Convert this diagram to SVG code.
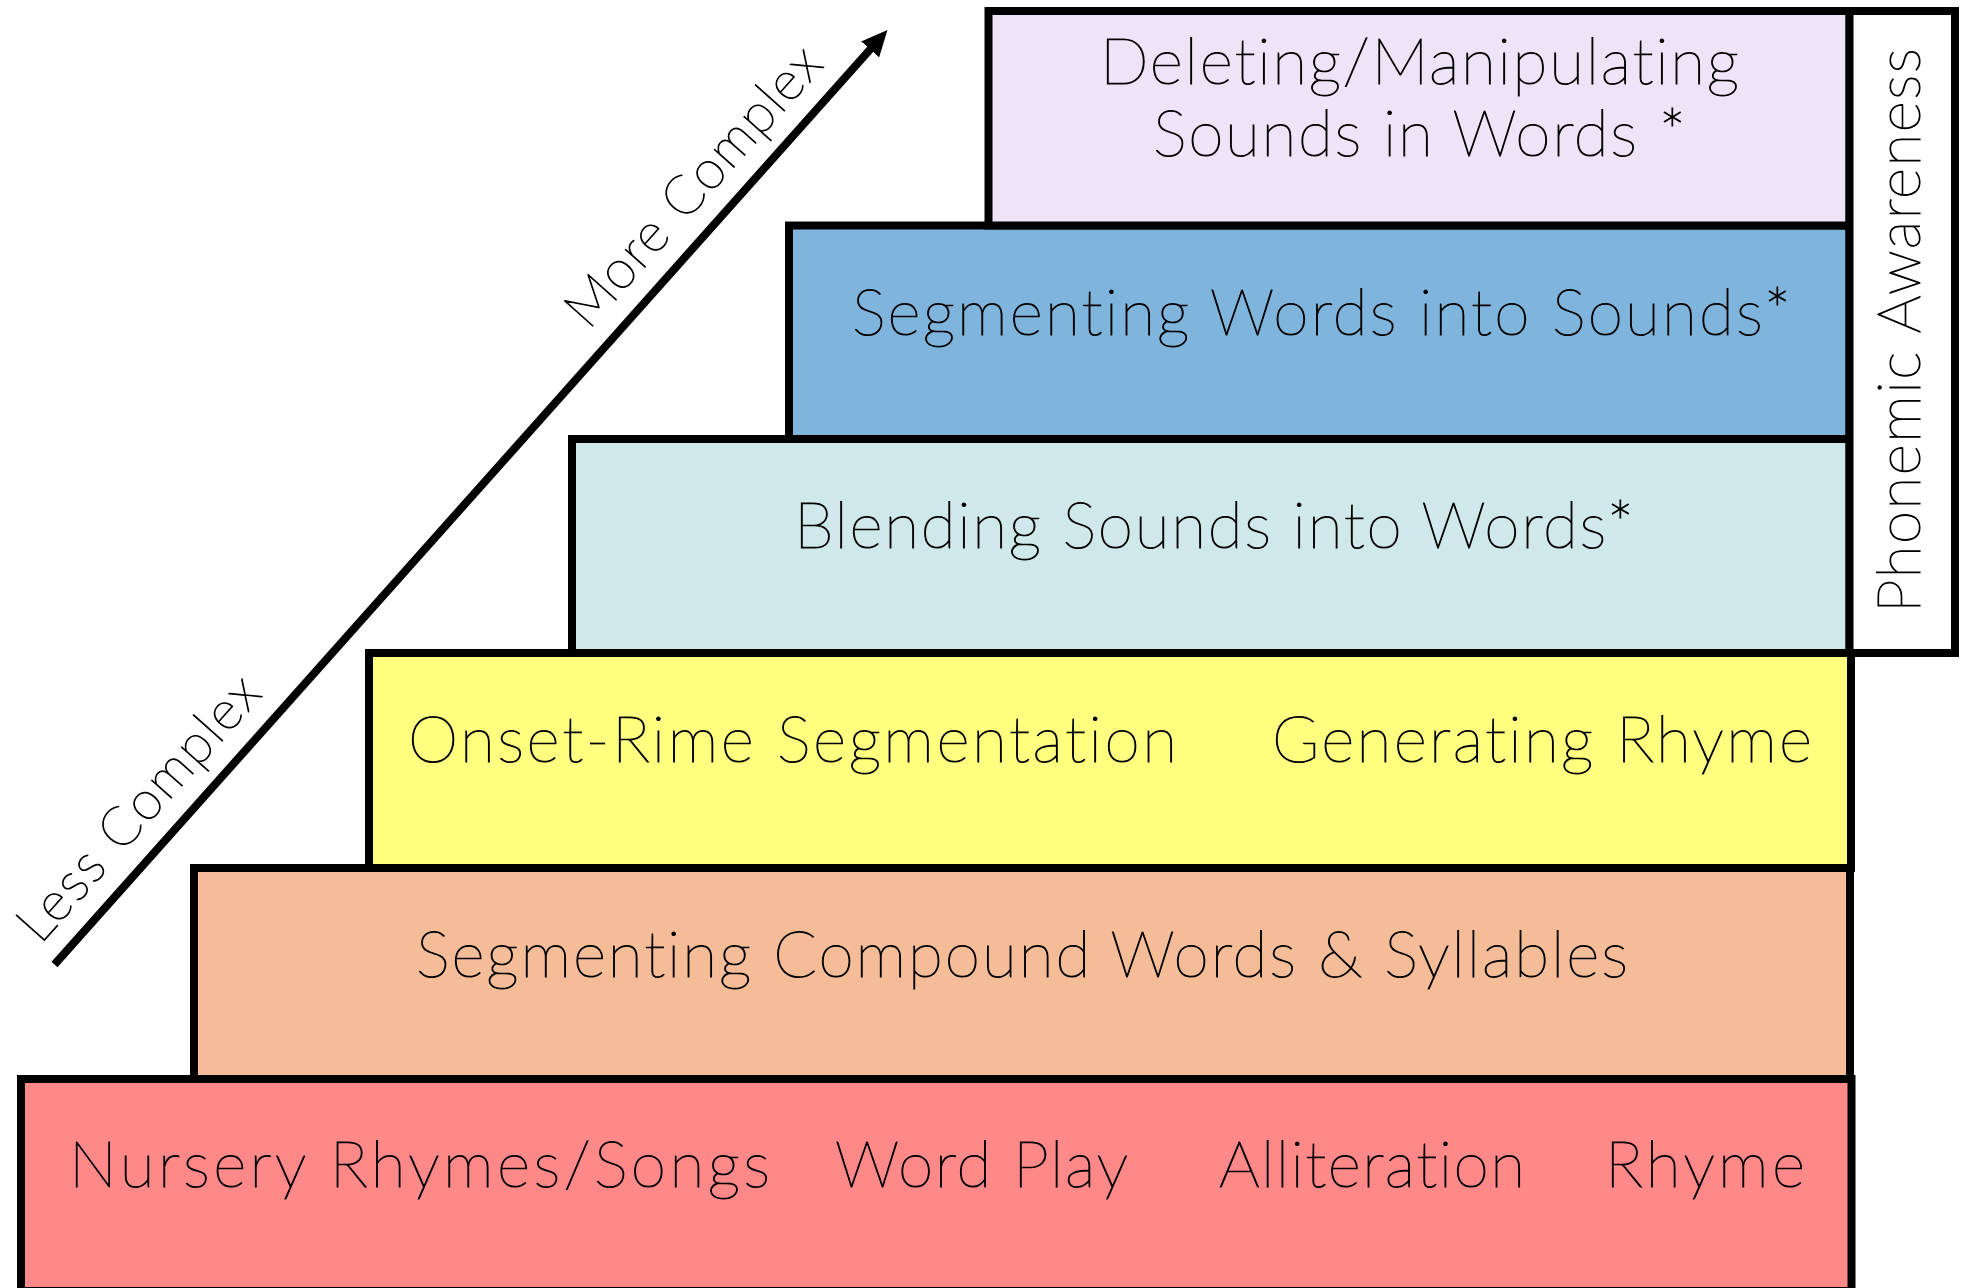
<svg xmlns="http://www.w3.org/2000/svg" width="1971" height="1288" viewBox="0 0 1971 1288">
  <style>
    .box { stroke: #000; stroke-width: 8; }
    .lbl, .axis { font-family: Lato, "Open Sans", "DejaVu Sans", sans-serif; font-weight: 100; fill: #000; stroke: #000; stroke-width: 1.1; font-variant-ligatures: none; }
    .lbl { font-size: 64px; }
    .axis { font-size: 54px; }
  </style>
  <defs>
    <marker id="arrowhead" viewBox="0 -12 26 24" markerWidth="26" markerHeight="24" refX="2" refY="0" orient="auto" markerUnits="userSpaceOnUse">
      <path d="M0,-12 L26,0 L0,12 z" fill="#000"/>
    </marker>
  </defs>
  <rect width="1971" height="1288" fill="#fff"/>

  <!-- complexity axis -->
  <g id="connectors">
    <line x1="54.5" y1="964.5" x2="871.5" y2="47.9" stroke="#000" stroke-width="8" marker-end="url(#arrowhead)"/>
  </g>
  <g id="axis-labels">
    <text class="axis" transform="translate(40.2,945.2) rotate(-48.29)" textLength="335" lengthAdjust="spacing">Less Complex</text>
    <text class="axis" transform="translate(588.4,330.8) rotate(-48.29)" textLength="355" lengthAdjust="spacing">More Complex</text>
  </g>

  <!-- level 1 -->
  <g id="level-1">
    <rect class="box" x="21" y="1079" width="1830.5" height="212" fill="#FF8888"/>
    <text class="lbl" x="69" y="1187" textLength="701" lengthAdjust="spacing">Nursery Rhymes/Songs</text>
    <text class="lbl" x="835" y="1187" textLength="293" lengthAdjust="spacing">Word Play</text>
    <text class="lbl" x="1219" y="1187" textLength="306" lengthAdjust="spacing">Alliteration</text>
    <text class="lbl" x="1605" y="1187" textLength="200" lengthAdjust="spacing">Rhyme</text>
  </g>

  <!-- level 2 -->
  <g id="level-2">
    <rect class="box" x="194" y="868" width="1656" height="211" fill="#F5BC98"/>
    <text class="lbl" x="416" y="977" textLength="1212" lengthAdjust="spacing">Segmenting Compound Words &amp; Syllables</text>
  </g>

  <!-- level 3 -->
  <g id="level-3">
    <rect class="box" x="369" y="653" width="1482" height="215" fill="#FFFF80"/>
    <text class="lbl" x="408" y="762" textLength="769" lengthAdjust="spacing">Onset-Rime Segmentation</text>
    <text class="lbl" x="1272" y="762" textLength="540" lengthAdjust="spacing">Generating Rhyme</text>
  </g>

  <!-- level 4 -->
  <g id="level-4">
    <rect class="box" x="572" y="439" width="1277.5" height="214" fill="#CFE8E9"/>
    <text class="lbl" x="794" y="548" textLength="840" lengthAdjust="spacing">Blending Sounds into Words*</text>
  </g>

  <!-- level 5 -->
  <g id="level-5">
    <rect class="box" x="789" y="225.5" width="1060.5" height="213.5" fill="#7FB5DC"/>
    <text class="lbl" x="852" y="335" textLength="939" lengthAdjust="spacing">Segmenting Words into Sounds*</text>
  </g>

  <!-- level 6 -->
  <g id="level-6">
    <rect class="box" x="988.5" y="11" width="861" height="214.5" fill="#EDE4F8"/>
    <text class="lbl" x="1100" y="83.5" textLength="639" lengthAdjust="spacing">Deleting/Manipulating</text>
    <text class="lbl" x="1153" y="155.5" textLength="533" lengthAdjust="spacing">Sounds in Words *</text>
  </g>

  <!-- side bracket -->
  <g id="phonemic-awareness">
    <rect class="box" x="1849.5" y="11" width="105.5" height="642" fill="#fff"/>
    <text class="lbl" transform="translate(1920,613) rotate(-90)" style="font-size:60px" textLength="565" lengthAdjust="spacing">Phonemic Awareness</text>
  </g>
</svg>
